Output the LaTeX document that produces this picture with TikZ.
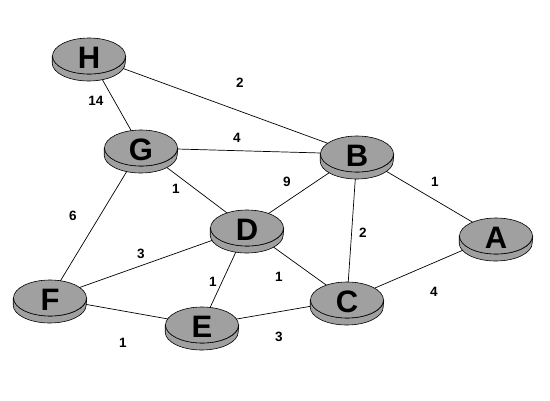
\documentclass[tikz,border=0pt]{standalone}
\usepackage{fontspec}
\setmainfont{Liberation Sans}
\usetikzlibrary{shapes.geometric,backgrounds}
\definecolor{diskgray}{HTML}{A0A0A0}
\tikzset{
  disk/.style={ellipse, draw=black, line width=0.6pt, fill=diskgray,
    minimum width=73pt, minimum height=36pt, inner sep=0pt,
    text height=25pt, text depth=0pt,
    font=\fontsize{31}{31}\selectfont\bfseries},
  diskside/.style={fill=diskgray, draw=black, line width=0.6pt},
  link/.style={draw=black, line width=0.7pt},
  wlab/.style={font=\fontsize{13.5}{13.5}\selectfont\bfseries, inner sep=0pt}
}
\begin{document}
\begin{tikzpicture}[x=1pt,y=-1pt]
\useasboundingbox (0,0) rectangle (550,400);
\node[disk] (H) at (89,56) {H};
\node[disk] (G) at (141,148) {G};
\node[disk] (B) at (357,154) {B};
\node[disk] (D) at (247,228) {D};
\node[disk] (A) at (496,236) {A};
\node[disk] (F) at (50,298) {F};
\node[disk] (C) at (347,300) {C};
\node[disk] (E) at (202,325) {E};
\begin{scope}[on background layer]
  \foreach \a/\b in {H/B,H/G,G/B,G/D,B/D,B/A,B/C,G/F,F/D,D/E,D/C,C/A,F/E,E/C}
    \draw[link] (\a.center) -- (\b.center);
  \foreach \n in {H,G,B,D,A,F,C,E}
    \filldraw[diskside] (\n.west) -- ++(0,-7pt)
      arc[start angle=180,end angle=360,x radius=36.5pt,y radius=18pt]
      -- (\n.east)
      arc[start angle=0,end angle=-180,x radius=36.5pt,y radius=18pt] -- cycle;
\end{scope}
\node[wlab] (w1) at (240,83) {2};
\node[wlab] (w2) at (96,101) {14};
\node[wlab] (w3) at (237,138) {4};
\node[wlab] (w4) at (176,189) {1};
\node[wlab] (w5) at (287,182) {9};
\node[wlab] (w6) at (435,182) {1};
\node[wlab] (w7) at (363,233) {2};
\node[wlab] (w8) at (73,216) {6};
\node[wlab] (w9) at (141,254) {3};
\node[wlab] (w10) at (213,282) {1};
\node[wlab] (w11) at (279,277) {1};
\node[wlab] (w12) at (434,292) {4};
\node[wlab] (w13) at (123,343) {1};
\node[wlab] (w14) at (279,337) {3};
\end{tikzpicture}
\end{document}
